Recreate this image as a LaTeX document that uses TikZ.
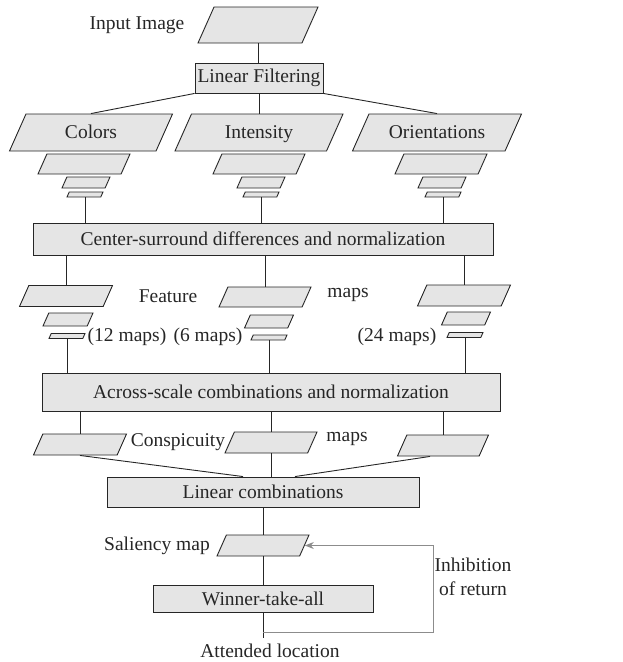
\documentclass[tikz,border=0pt]{standalone}
\usepackage{fontspec}
\setmainfont{Liberation Serif}
\usetikzlibrary{arrows.meta,shapes.geometric}

\begin{document}
\begin{tikzpicture}[
  x=1pt, y=-1pt,
  font=\fontsize{19.5}{24}\selectfont,
  line width=0.9pt, color=black!85,
  box/.style={rectangle, draw, fill=black!10, inner sep=0pt},
  pgram/.style 2 args={trapezium, trapezium left angle=66, trapezium right angle=114,
                trapezium stretches body, draw, fill=black!10, inner sep=0pt,
                minimum width=#1, text height=#2, text depth=0pt},
  lbl/.style={inner sep=0pt},
  back/.style={draw=black!45, -{Stealth[length=9pt, width=7pt]}}
]
\useasboundingbox (0,0) rectangle (623,662);

% input and filtering
\node[pgram={120pt}{36pt}] (inimg) at (258,25) {};
\node[lbl] (inlbl) at (137,25) {Input Image};
\node[box, minimum width=128pt, minimum height=30pt] (filt) at (259,78) {Linear Filtering};
\draw (inimg.south) -- (inimg.south |- filt.north);

\node[pgram={163pt}{24pt}, text depth=13pt] (col) at (91,132.5) {Colors};
\node[pgram={168pt}{24pt}, text depth=13pt] (int) at (259,132.5) {Intensity};
\node[pgram={169pt}{24pt}, text depth=13pt] (ori) at (437,132.5) {Orientations};
\draw (filt.south west) -- (col.north);
\draw (filt.south) -- (filt.south |- int.north);
\draw (filt.south east) -- (ori.north);

% pyramids
\node[pgram={92pt}{20pt}] (col1) at (84,164) {};
\node[pgram={48pt}{11pt}] (col2) at (86,182.5) {};
\node[pgram={36pt}{5pt}]  (col3) at (85,194.5) {};
\node[pgram={92pt}{20pt}] (int1) at (259,164) {};
\node[pgram={48pt}{11pt}] (int2) at (261,182.5) {};
\node[pgram={36pt}{5pt}]  (int3) at (261,194.5) {};
\node[pgram={92pt}{20pt}] (ori1) at (441,164) {};
\node[pgram={48pt}{11pt}] (ori2) at (442,182.5) {};
\node[pgram={36pt}{5pt}]  (ori3) at (443,194.5) {};

\node[box, minimum width=460pt, minimum height=32pt] (csd) at (263,239)
  {Center-surround differences and normalization};
\draw (col3.south) -- (col3.south |- csd.north);
\draw (int3.south) -- (int3.south |- csd.north);
\draw (ori3.south) -- (ori3.south |- csd.north);

% feature maps
\node[pgram={93pt}{21pt}] (fc1) at (66,296) {};
\node[pgram={50pt}{13pt}] (fc2) at (68,319.5) {};
\node[pgram={36pt}{5pt}]  (fc3) at (67,336) {};
\node[pgram={92pt}{20pt}] (fi1) at (265,297) {};
\node[pgram={49pt}{13pt}] (fi2) at (269,321.5) {};
\node[pgram={36pt}{5pt}]  (fi3) at (269,337.5) {};
\node[pgram={93pt}{21pt}] (fo1) at (464,295.5) {};
\node[pgram={49pt}{13pt}] (fo2) at (466,318.5) {};
\node[pgram={36pt}{5pt}]  (fo3) at (465,335) {};
\draw (fc1.north) -- (fc1.north |- csd.south);
\draw (fi1.north) -- (fi1.north |- csd.south);
\draw (fo1.north) -- (fo1.north |- csd.south);

\node[lbl] (featlbl) at (168,296) {Feature};
\node[lbl] (fmapslbl) at (348,295) {maps};
\node[lbl] (ncol) at (127,337) {(12 maps)};
\node[lbl] (nint) at (208,337) {(6 maps)};
\node[lbl] (nori) at (397,337) {(24 maps)};

\node[box, minimum width=458pt, minimum height=38pt] (asc) at (271,392)
  {Across-scale combinations and normalization};
\draw (fc3.south) -- (fc3.south |- asc.north);
\draw (fi3.south) -- (fi3.south |- asc.north);
\draw (fo3.south) -- (fo3.south |- asc.north);

% conspicuity maps
\node[pgram={93pt}{21pt}] (cs1) at (80,444.5) {};
\node[pgram={92pt}{21pt}] (cs2) at (271,442.5) {};
\node[pgram={91pt}{21pt}] (cs3) at (443,445.5) {};
\draw (cs1.north) -- (cs1.north |- asc.south);
\draw (cs2.north) -- (cs2.north |- asc.south);
\draw (cs3.north) -- (cs3.north |- asc.south);
\node[lbl] (conslbl) at (178,442) {Conspicuity};
\node[lbl] (cmapslbl) at (347,439) {maps};

\node[box, minimum width=312pt, minimum height=30pt] (lin) at (263,492) {Linear combinations};
\draw (cs1.south) -- ([xshift=-20pt]lin.north);
\draw (cs2.south) -- (cs2.south |- lin.north);
\draw ([xshift=-13pt]cs3.south) -- ([xshift=32pt]lin.north);

% saliency and selection
\node[pgram={92pt}{21pt}] (sal) at (263,545.5) {};
\node[lbl] (sallbl) at (157,546) {Saliency map};
\draw (lin.south) -- (sal.north);
\node[box, minimum width=220pt, minimum height=27pt] (wta) at (263,598.5) {Winner-take-all};
\draw (sal.south) -- (wta.north);
\coordinate (att) at (263,638);
\draw (wta.south) -- (att);
\node[lbl] (attlbl) at (270,651) {Attended location};
\coordinate (fb) at (433,632);
\draw[back] (wta.south |- fb) -- (fb) |- (sal.east);
\node[lbl, align=center] (inh) at (473,577) {Inhibition\\of return};
\end{tikzpicture}
\end{document}
